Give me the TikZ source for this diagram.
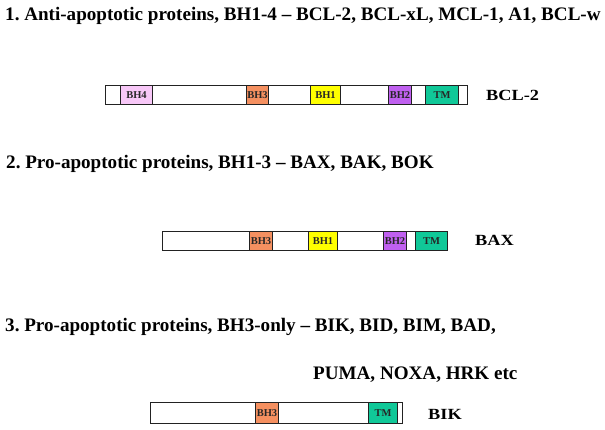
\documentclass[tikz,border=0pt]{standalone}
\usepackage{fontspec}
\setmainfont{Liberation Serif}
\newfontfamily\widefont[FakeStretch=1.18]{Liberation Serif}
\definecolor{bhfour}{HTML}{F8C8F8}
\definecolor{bhthree}{HTML}{F59060}
\definecolor{bhone}{HTML}{FFFF00}
\definecolor{bhtwo}{HTML}{C060F0}
\definecolor{tmcol}{HTML}{10C898}
\definecolor{edge}{HTML}{222222}
\begin{document}
\frenchspacing
\begin{tikzpicture}[x=1pt,y=-1pt,
  heading/.style={anchor=base west,inner sep=0,font=\bfseries\fontsize{19.1}{21}\selectfont},
  protname/.style={anchor=base west,inner sep=0,font=\widefont\bfseries\fontsize{15.5}{17}\selectfont},
  bar/.style={draw=edge,line width=1pt,fill=white,inner sep=0,anchor=north west,minimum height=19pt},
  dom/.style={draw=edge,line width=1pt,inner sep=0,anchor=north west,minimum height=19pt,text=black!85,font=\bfseries\fontsize{10.5}{11}\selectfont}]
\useasboundingbox (0,0) rectangle (605,430);
% headings
\node[heading] (h1) at (5,21) {1. Anti-apoptotic proteins, BH1-4 – BCL-2, BCL-xL, MCL-1, A1, BCL-w};
\node[heading] (h2) at (6,169) {2. Pro-apoptotic proteins, BH1-3 – BAX, BAK, BOK};
\node[heading] (h3) at (5,331) {3. Pro-apoptotic proteins, BH3-only – BIK, BID, BIM, BAD,};
\node[heading] (h4) at (313,379) {PUMA, NOXA, HRK etc};
% BCL-2
\node[bar,minimum width=362pt] (bar1) at (105,85) {};
\node[dom,fill=bhfour,minimum width=32pt] (b1h4) at (120,85) {BH4};
\node[dom,fill=bhthree,minimum width=22pt] (b1h3) at (246,85) {BH3};
\node[dom,fill=bhone,minimum width=30pt] (b1h1) at (310,85) {BH1};
\node[dom,fill=bhtwo,minimum width=23pt] (b1h2) at (388,85) {BH2};
\node[dom,fill=tmcol,minimum width=33pt] (b1tm) at (425,85) {TM};
\node[protname] (n1) at (486,101) {BCL-2};
% BAX
\node[bar,minimum width=285pt] (bar2) at (162,231) {};
\node[dom,fill=bhthree,minimum width=23pt] (b2h3) at (249,231) {BH3};
\node[dom,fill=bhone,minimum width=29pt] (b2h1) at (308,231) {BH1};
\node[dom,fill=bhtwo,minimum width=23pt] (b2h2) at (383,231) {BH2};
\node[dom,fill=tmcol,minimum width=32pt] (b2tm) at (415,231) {TM};
\node[protname] (n2) at (475,246) {BAX};
% BIK
\node[bar,minimum width=252pt,minimum height=21pt] (bar3) at (150,402) {};
\node[dom,fill=bhthree,minimum width=23pt,minimum height=21pt] (b3h3) at (255,402) {BH3};
\node[dom,fill=tmcol,minimum width=29pt,minimum height=21pt] (b3tm) at (368,402) {TM};
\node[protname] (n3) at (428,419) {BIK};
\end{tikzpicture}
\end{document}
